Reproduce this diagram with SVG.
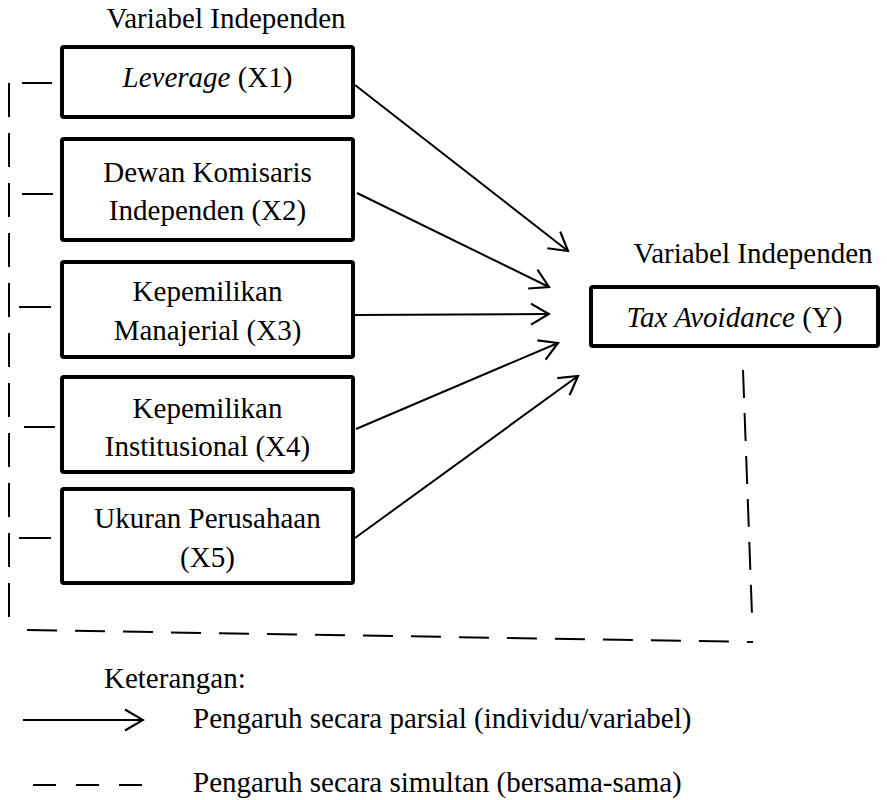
<svg xmlns="http://www.w3.org/2000/svg" width="887" height="800" viewBox="0 0 887 800">
<style>
text{font-family:'Liberation Serif','Times New Roman',Tinos,'DejaVu Serif',serif;font-size:29px;fill:#000}
.c{text-anchor:middle}
.box{fill:#fff;stroke:#000;stroke-width:4}
.ln{stroke:#000;stroke-width:2;fill:none}
.arr{stroke:#000;stroke-width:2;fill:none;marker-end:url(#ah)}
.dv{stroke:#000;stroke-width:2;fill:none;stroke-dasharray:34 16}
.dh{stroke:#000;stroke-width:2;fill:none;stroke-dasharray:30 18}
.dr{stroke:#000;stroke-width:2;fill:none;stroke-dasharray:28 15}
.it{font-style:italic}
</style>
<defs>
<marker id="ah" markerUnits="userSpaceOnUse" viewBox="-22 -13 24 26" markerWidth="24" markerHeight="26" refX="0" refY="0" orient="auto">
<path d="M-18,-10.5 L0,0 L-18,10.5" fill="none" stroke="#000" stroke-width="2.2"/>
</marker>
</defs>
<g font-family="'Liberation Serif','Times New Roman',serif" font-size="29">
<text class="c" x="226" y="28">Variabel Independen</text>
<g id="x1">
<rect class="box" x="62" y="47" width="291" height="70" rx="2"/>
<text class="c" x="207.5" y="87"><tspan class="it">Leverage</tspan> (X1)</text>
</g>
<g id="x2">
<rect class="box" x="62" y="139" width="291" height="101" rx="2"/>
<text class="c" x="207.5" y="182">Dewan Komisaris</text>
<text class="c" x="207.5" y="220">Independen (X2)</text>
</g>
<g id="x3">
<rect class="box" x="62" y="262" width="291" height="95" rx="2"/>
<text class="c" x="207.5" y="301">Kepemilikan</text>
<text class="c" x="207.5" y="340">Manajerial (X3)</text>
</g>
<g id="x4">
<rect class="box" x="62" y="377" width="291" height="95" rx="2"/>
<text class="c" x="207.5" y="418">Kepemilikan</text>
<text class="c" x="207.5" y="456">Institusional (X4)</text>
</g>
<g id="x5">
<rect class="box" x="62" y="489" width="291" height="94" rx="2"/>
<text class="c" x="207.5" y="528">Ukuran Perusahaan</text>
<text class="c" x="207.5" y="567">(X5)</text>
</g>
<g id="y">
<text class="c" x="753" y="263">Variabel Independen</text>
<rect class="box" x="591" y="287" width="287" height="59" rx="2"/>
<text class="c" x="734.5" y="327"><tspan class="it">Tax Avoidance</tspan> (Y)</text>
</g>
<g id="connectors">
<line class="arr" x1="355" y1="85" x2="568" y2="251"/>
<line class="arr" x1="357" y1="193" x2="549" y2="287"/>
<line class="arr" x1="355" y1="315" x2="549" y2="314"/>
<line class="arr" x1="356" y1="429" x2="558" y2="343"/>
<line class="arr" x1="355" y1="538" x2="578" y2="376"/>
<line class="ln" x1="22" y1="83" x2="52" y2="83"/>
<line class="ln" x1="22" y1="194" x2="53" y2="194"/>
<line class="ln" x1="19" y1="307" x2="51" y2="307"/>
<line class="ln" x1="24" y1="427" x2="55" y2="427"/>
<line class="ln" x1="19" y1="538" x2="51" y2="538"/>
<line class="dv" x1="9" y1="83" x2="9" y2="617"/>
<line class="dh" x1="27" y1="630" x2="753" y2="642"/>
<line class="dr" x1="743" y1="370" x2="752" y2="615"/>
</g>
<g id="legend">
<text x="104" y="688">Keterangan:</text>
<line class="arr" x1="23" y1="720" x2="143" y2="720"/>
<text x="193" y="728">Pengaruh secara parsial (individu/variabel)</text>
<line class="ln" x1="33" y1="785" x2="143" y2="785" stroke-dasharray="23 20"/>
<text x="193" y="792">Pengaruh secara simultan (bersama-sama)</text>
</g>
</g>
</svg>
